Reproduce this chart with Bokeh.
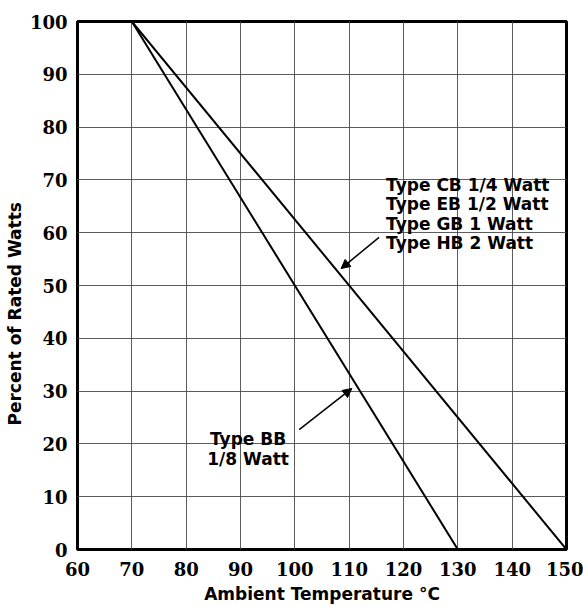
from bokeh.plotting import figure
from bokeh.models import FixedTicker, Title, Arrow, NormalHead, ColumnDataSource, Range1d
from bokeh.core.properties import value
from bokeh.embed import file_html
from bokeh.resources import INLINE

# Derating curves (Ambient temperature °C vs percent of rated watts)
temp_cb_eb_gb_hb = [70, 150]
watts_cb_eb_gb_hb = [100, 0]
temp_bb = [70, 130]
watts_bb = [100, 0]

x_ticks = [60, 70, 80, 90, 100, 110, 120, 130, 140, 150]
y_ticks = [0, 10, 20, 30, 40, 50, 60, 70, 80, 90, 100]

label_cb_lines = ["Type CB 1/4 Watt", "Type EB 1/2 Watt", "Type GB 1 Watt", "Type HB 2 Watt"]
label_bb_lines = ["Type BB", "1/8 Watt"]

x_title = "Ambient Temperature °C"
y_title = "Percent of Rated Watts"

TITLE_FONT = "DejaVu Sans"
TICK_FONT = "DejaVu Serif"

p = figure(width=583, height=607, output_backend="svg", toolbar_location=None,
           x_range=Range1d(60, 150), y_range=Range1d(0, 100),
           min_border_left=76, min_border_right=17, min_border_top=21, min_border_bottom=58)

p.background_fill_color = "white"
p.border_fill_color = "white"
p.outline_line_color = "black"
p.outline_line_width = 3

for ax in (p.xaxis, p.yaxis):
    ax.axis_line_color = None
    ax.major_tick_line_color = None
    ax.minor_tick_line_color = None
    ax.major_label_text_font = TICK_FONT
    ax.major_label_text_font_style = "bold"
    ax.major_label_text_font_size = "18px"
    ax.major_label_text_color = "black"

p.xaxis.ticker = FixedTicker(ticks=x_ticks)
p.yaxis.ticker = FixedTicker(ticks=y_ticks)
p.xaxis.major_label_standoff = 6
p.yaxis.major_label_standoff = 4

p.xgrid.ticker = FixedTicker(ticks=x_ticks)
p.ygrid.ticker = FixedTicker(ticks=y_ticks)
for g in (p.xgrid, p.ygrid):
    g.grid_line_color = "#4a4a4a"
    g.grid_line_width = 1
    g.grid_line_alpha = 0.9

p.line(temp_cb_eb_gb_hb, watts_cb_eb_gb_hb, line_color="black", line_width=2)
p.line(temp_bb, watts_bb, line_color="black", line_width=2)

# Annotation text
cb_src = ColumnDataSource(dict(x=[116.8] * 4, y=[69.1, 65.5, 61.7, 58.0], t=label_cb_lines))
p.text(x="x", y="y", text="t", source=cb_src, text_font=value(TITLE_FONT),
       text_font_style="bold", text_font_size="17px", text_color="black",
       text_baseline="middle", text_align="left")

bb_src = ColumnDataSource(dict(x=[91.4] * 2, y=[21.0, 17.2], t=label_bb_lines))
p.text(x="x", y="y", text="t", source=bb_src, text_font=value(TITLE_FONT),
       text_font_style="bold", text_font_size="17px", text_color="black",
       text_baseline="middle", text_align="center")

# Arrows
p.add_layout(Arrow(end=NormalHead(size=9, fill_color="black", line_color="black"),
                   x_start=115.5, y_start=59.1, x_end=108.5, y_end=53.2,
                   line_color="black", line_width=1.5))
p.add_layout(Arrow(end=NormalHead(size=9, fill_color="black", line_color="black"),
                   x_start=100.8, y_start=22.7, x_end=110.5, y_end=30.5,
                   line_color="black", line_width=1.5))

# Axis titles
p.add_layout(Title(text=x_title, text_font=TITLE_FONT, text_font_style="bold",
                   text_font_size="17px", align="center", standoff=7,
                   text_color="black"), "below")
p.add_layout(Title(text=y_title, text_font=TITLE_FONT, text_font_style="bold",
                   text_font_size="17px", align="left", offset=124, standoff=4,
                   text_color="black"), "left")

open("out.html", "w").write(file_html(p, INLINE))
